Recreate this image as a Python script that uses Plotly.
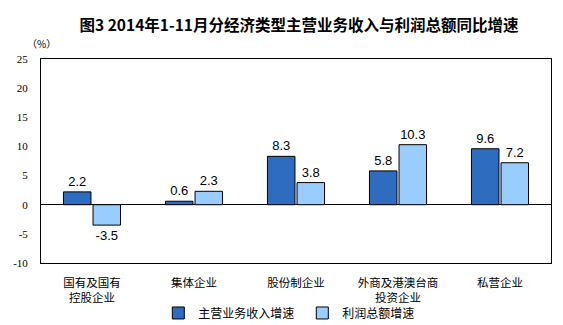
import plotly.graph_objects as go

categories = ["国有及国有<br>控股企业", "集体企业", "股份制企业", "外商及港澳台商<br>投资企业", "私营企业"]
revenue_growth = [2.2, 0.6, 8.3, 5.8, 9.6]
profit_growth = [-3.5, 2.3, 3.8, 10.3, 7.2]
series_names = ["主营业务收入增速", "利润总额增速"]
y_ticks = [-10, -5, 0, 5, 10, 15, 20, 25]
title_text = "图3 2014年1-11月分经济类型主营业务收入与利润总额同比增速"

CJK = "Noto Sans CJK SC"

fig = go.Figure()
fig.add_trace(go.Bar(
    x=categories, y=revenue_growth, name=series_names[0],
    marker=dict(color="#2E6CBF", line=dict(color="#000000", width=1)),
    text=[f"{v:.1f}" for v in revenue_growth], textposition="outside",
    textfont=dict(family="Liberation Sans", size=13, color="#000000"),
    cliponaxis=False,
))
fig.add_trace(go.Bar(
    x=categories, y=profit_growth, name=series_names[1],
    marker=dict(color="#99CCFF", line=dict(color="#000000", width=1)),
    text=[f"{v:.1f}" for v in profit_growth], textposition="outside",
    textfont=dict(family="Liberation Sans", size=13, color="#000000"),
    cliponaxis=False,
))

fig.update_layout(
    width=563, height=325,
    margin=dict(l=41, r=12, t=59, b=62, autoexpand=False),
    paper_bgcolor="#FFFFFF", plot_bgcolor="#FFFFFF",
    barmode="group", bargap=0.42, bargroupgap=0.07,
    showlegend=True,
    legend=dict(
        orientation="h", x=0.23, xanchor="left", y=-0.245, yanchor="middle",
        font=dict(family=CJK, size=12, color="#000000"),
        bgcolor="rgba(0,0,0,0)", itemclick=False,
        entrywidth=99, entrywidthmode="pixels",
    ),
    title=dict(
        text="<b>" + title_text + "</b>",
        xref="container", x=299 / 563, xanchor="center", y=1 - 26 / 325, yanchor="middle",
        font=dict(family=CJK, size=15.5, color="#000000"),
    ),
    xaxis=dict(
        showline=True, linecolor="#000000", linewidth=1, mirror=True,
        showgrid=False, ticks="", ticklabelstandoff=9,
        tickfont=dict(family=CJK, size=11.5, color="#000000"),
    ),
    yaxis=dict(
        range=[-10, 25], tickvals=y_ticks, ticktext=[str(v) for v in y_ticks],
        showline=True, linecolor="#000000", linewidth=1, mirror=True,
        showgrid=False, ticks="", ticklabelstandoff=10,
        zeroline=True, zerolinecolor="#000000", zerolinewidth=1,
        tickfont=dict(family="Liberation Serif", size=11, color="#000000"),
    ),
    annotations=[dict(
        text="（%）", xref="paper", yref="paper", x=0, y=1, xanchor="center", yanchor="bottom",
        xshift=0, yshift=6, showarrow=False,
        font=dict(family=CJK, size=10, color="#000000"),
    )],
)

fig.write_html("out.html")
